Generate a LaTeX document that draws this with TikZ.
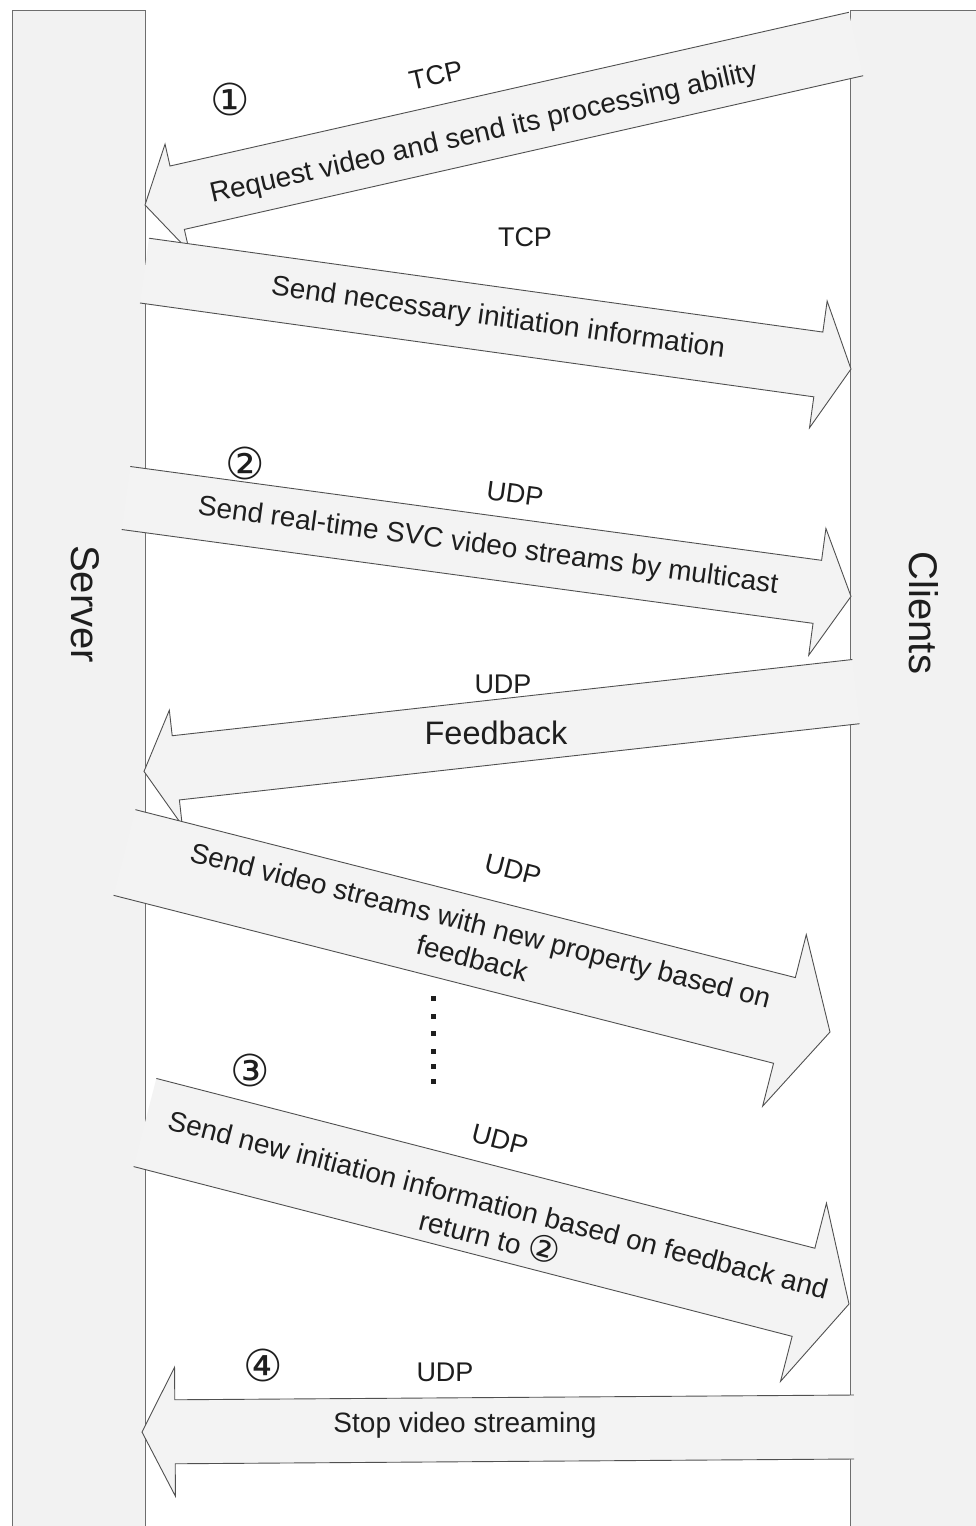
\documentclass[tikz,border=0pt]{standalone}
\usepackage{fontspec}
\setmainfont{Liberation Sans}
\newfontfamily\circfont{DejaVu Sans}
\usetikzlibrary{calc}

\definecolor{pillarfill}{HTML}{F2F2F2}
\definecolor{arrowfill}{HTML}{F3F3F3}
\definecolor{arrowedge}{HTML}{505050}
\definecolor{pillaredge}{HTML}{6E6E6E}
\definecolor{ink}{HTML}{1E1E1E}

% circled step number set inline
\newcommand\circnum[1]{{\circfont\fontsize{36}{34}\selectfont #1}}

% block arrow: name, tail centre, tip, half shaft width, half head width, head length
\newcommand\blockarrow[6]{%
  \coordinate (#1-tail) at #2;
  \coordinate (#1-tip) at #3;
  \coordinate (#1-base) at ($(#1-tip)!#6pt!(#1-tail)$);
  \coordinate (#1-t1) at ($(#1-tail)!#4pt!90:(#1-tip)$);
  \coordinate (#1-t2) at ($(#1-tail)!#4pt!-90:(#1-tip)$);
  \coordinate (#1-b1) at ($(#1-base)!#4pt!90:(#1-tip)$);
  \coordinate (#1-b2) at ($(#1-base)!#4pt!-90:(#1-tip)$);
  \coordinate (#1-h1) at ($(#1-base)!#5pt!90:(#1-tip)$);
  \coordinate (#1-h2) at ($(#1-base)!#5pt!-90:(#1-tip)$);
  \fill[arrowfill] (#1-t1) -- (#1-b1) -- (#1-h1) -- (#1-tip) -- (#1-h2) -- (#1-b2) -- (#1-t2) -- cycle;
  \draw[flowedge] (#1-t1) -- (#1-b1) -- (#1-h1) -- (#1-tip) -- (#1-h2) -- (#1-b2) -- (#1-t2);
}

\tikzset{
  flowedge/.style={draw=arrowedge, line width=0.9pt},
  pillarline/.style={draw=pillaredge, line width=0.9pt},
  lbl/.style={inner sep=0pt, text=ink, font=\fontsize{28}{34}\selectfont},
  proto/.style={inner sep=0pt, text=ink, font=\fontsize{27}{32}\selectfont},
  num/.style={inner sep=0pt, text=ink, font=\circfont\fontsize{44}{46}\selectfont},
  side/.style={inner sep=0pt, text=ink, font=\fontsize{40}{44}\selectfont},
}

\begin{document}
\begin{tikzpicture}[x=1pt, y=-1pt]
  \fill[white] (0,0) rectangle (976,1526);
  \useasboundingbox (0,0) rectangle (976,1526);

  % server and client columns
  \fill[pillarfill] (12,10) rectangle (145,1530);
  \draw[pillarline] (12,1530) -- (12,10) -- (145,10) -- (145,1530);
  \fill[pillarfill] (850,10) rectangle (980,1530);
  \draw[pillarline] (850,1530) -- (850,10) -- (980,10);

  % message arrows
  \blockarrow{a1}{(856,44)}{(145,205)}{32.5}{55}{33}
  \blockarrow{a2}{(144.5,270.6)}{(851,369)}{32.7}{64}{33}
  \blockarrow{a3}{(126,498)}{(851,596.4)}{31.8}{64}{34}
  \blockarrow{a4}{(856,691.6)}{(144,771.4)}{32.3}{58}{32}
  \blockarrow{a5}{(124.5,852.5)}{(830,1032)}{44.2}{88.5}{47}
  \blockarrow{a6}{(145,1122.5)}{(849,1304)}{45.5}{92}{47}
  \blockarrow{a7}{(854,1427)}{(142,1432)}{32}{64.5}{33}

  % column titles
  \node[side, rotate=-90] (server) at (85,604) {Server};
  \node[side, rotate=-90] (clients) at (924,613) {Clients};

  % step 1
  \node[num] (n1) at (230,99) {①};
  \node[proto, rotate=12.76] (a1-proto) at (436,75) {TCP};
  \node[lbl, rotate=12.76] (a1-text) at (484,134) {Request video and send its processing ability};
  \node[proto] (a2-proto) at (525,237) {TCP};
  \node[lbl, rotate=-7.93] (a2-text) at (498,319) {Send necessary initiation information};

  % step 2
  \node[num] (n2) at (245,463) {②};
  \node[proto, rotate=-7.73] (a3-proto) at (515,494) {UDP};
  \node[lbl, rotate=-7.73] (a3-text) at (488,547) {Send real-time SVC video streams by multicast};
  \node[proto] (a4-proto) at (503,684) {UDP};
  \node[lbl, font=\fontsize{32.5}{36}\selectfont] (a4-text) at (496,733) {Feedback};
  \node[proto, rotate=-14.27] (a5-proto) at (513,870) {UDP};
  \node[lbl, rotate=-14.27, align=center] (a5-text) at (476.5,941.5)
    {Send video streams with new property based on\\feedback};

  % continuation dots
  \foreach \yy in {998,1016,1033,1051,1066,1081}
    \fill[ink] (430.5,\yy-2.5) rectangle +(5,5);

  % step 3
  \node[num] (n3) at (250,1070) {③};
  \node[proto, rotate=-14.46] (a6-proto) at (500,1140) {UDP};
  \node[lbl, rotate=-14.46, align=center] (a6-text) at (494,1221)
    {Send new initiation information based on feedback and\\return to \circnum{②}};

  % step 4
  \node[num] (n4) at (263,1365) {④};
  \node[proto] (a7-proto) at (445,1372) {UDP};
  \node[lbl] (a7-text) at (465,1425) {Stop video streaming};
\end{tikzpicture}
\end{document}
